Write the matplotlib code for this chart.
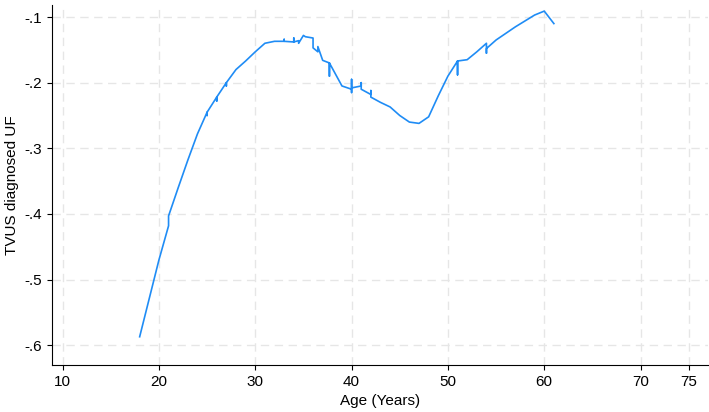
import matplotlib
matplotlib.use("Agg")
import matplotlib.pyplot as plt

age = [18, 20, 21, 21, 22, 23, 24, 25, 25, 25, 26, 26, 26, 27, 27, 27, 28, 29, 30, 31, 32,
       33, 33, 33, 34, 34, 34, 34.5, 34.5, 35, 35.2, 36, 36, 36.5, 36.5, 37, 37.7, 37.7, 37.7,
       39, 40, 40, 40, 40, 41, 41, 41, 42, 42, 42, 43, 44, 45, 46, 47, 48, 49, 50, 51, 51, 51,
       52, 53, 54, 54, 54, 55, 56, 57, 58, 59, 60, 61]
tvus = [-.587, -.47, -.418, -.403, -.36, -.318, -.278, -.245, -.25, -.245, -.222, -.228, -.222,
        -.2, -.205, -.2, -.18, -.167, -.153, -.14, -.137,
        -.137, -.134, -.137, -.138, -.132, -.138, -.136, -.14, -.128, -.13, -.132, -.147,
        -.153, -.145, -.166, -.17, -.19, -.17,
        -.205, -.21, -.215, -.195, -.208, -.205, -.2, -.21, -.218, -.212, -.222, -.23, -.237,
        -.25, -.26, -.262, -.252, -.22, -.19, -.167, -.188, -.167,
        -.165, -.153, -.14, -.155, -.148, -.135, -.125, -.115, -.106, -.097, -.091, -.11]

plt.rcParams['font.family'] = ['Liberation Sans', 'DejaVu Sans']
fig = plt.figure(figsize=(7.09, 4.12), dpi=100)
ax = fig.add_axes([52/709, 47/412, 656/709, 360/412])
ax.plot(age, tvus, color="#1f8cf5", lw=1.2)
ax.set_xlim(8.9, 77)
ax.set_ylim(-0.630, -0.0817)
ax.set_xticks([10, 20, 30, 40, 50, 60, 70, 75])
ax.set_yticks([-.1, -.2, -.3, -.4, -.5, -.6])
ax.set_yticklabels(["-.1", "-.2", "-.3", "-.4", "-.5", "-.6"])
ax.grid(True, color="#e6e6e6", ls=(0, (6, 4)), lw=1)
for s in ["top", "right"]:
    ax.spines[s].set_visible(False)
ax.tick_params(labelsize=11)
ax.set_xlabel("Age (Years)", fontsize=11)
ax.set_ylabel("TVUS diagnosed UF", fontsize=11)
fig.savefig("out.png", dpi=100)
